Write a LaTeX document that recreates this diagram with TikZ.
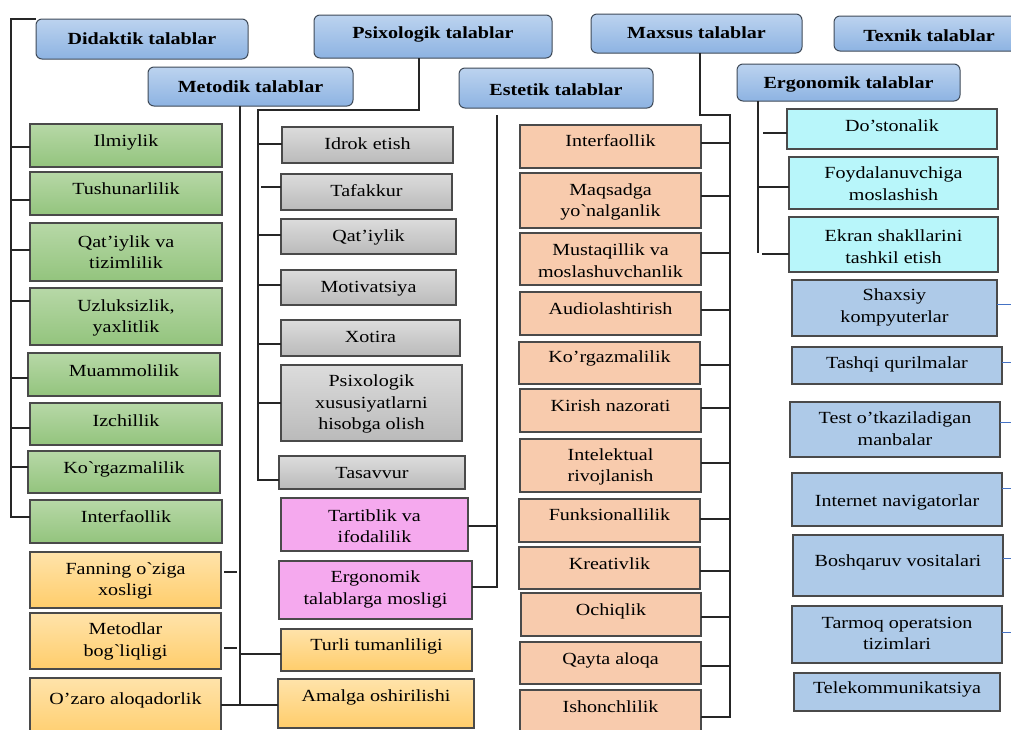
\documentclass[tikz,border=0pt]{standalone}
\usepackage{fontspec}
\setmainfont{Liberation Serif}[FakeStretch=1.18]
\usetikzlibrary{calc}
\definecolor{hdrtop}{HTML}{BCD3EF}
\definecolor{hdrbot}{HTML}{8DB3E2}
\definecolor{hdrline}{HTML}{3F4A58}
\definecolor{grtop}{HTML}{B7D8A7}
\definecolor{grbot}{HTML}{93C47D}
\definecolor{yltop}{HTML}{FFE3AA}
\definecolor{ylbot}{HTML}{FFCD6B}
\definecolor{gytop}{HTML}{DCDCDC}
\definecolor{gybot}{HTML}{BABABA}
\definecolor{pinkf}{HTML}{F5A9EE}
\definecolor{salmonf}{HTML}{F8CBAD}
\definecolor{cyanf}{HTML}{B8F6FA}
\definecolor{bluef}{HTML}{AECAE8}
\definecolor{bxline}{HTML}{4A4A4A}
\definecolor{linkblue}{HTML}{4472C4}
\newcommand\bq{\textasciigrave}
\newcommand\boxone[8]{%
  \node[#2, minimum width={(#5-#3)*1pt}, minimum height={(#6-#4)*1pt}] (#1) at ({(#3+#5)/2},{(#4+#6)/2}) {};
  \node[txt, anchor=base] (#1t) at ({(#3+#5)/2},#7) {#8};}
\newcommand\boxmulti[8]{%
  \node[#2, minimum width={(#5-#3)*1pt}, minimum height={(#6-#4)*1pt}] (#1) at ({(#3+#5)/2},{(#4+#6)/2}) {};
  \node[txt] (#1t) at ({(#3+#5)/2},#7) {#8};}
\newcommand\tick[4]{\draw[#4] ($(#1)+(0,#2)$) coordinate (tk) -- (tk -| #3);}
\begin{document}
\begin{tikzpicture}[x=1pt,y=-1pt,
  txt/.style={font=\fontsize{17}{21.5}\selectfont, align=center, inner sep=0pt},
  bx/.style={draw=bxline, line width=1.3pt, inner sep=0pt, outer sep=0pt},
  hdr/.style={draw=hdrline, line width=1pt, rounded corners=6pt, top color=hdrtop, bottom color=hdrbot, inner sep=0pt, outer sep=0pt},
  grn/.style={bx, top color=grtop, bottom color=grbot},
  ylw/.style={bx, top color=yltop, bottom color=ylbot},
  gry/.style={bx, top color=gytop, bottom color=gybot},
  pnk/.style={bx, fill=pinkf},
  slm/.style={bx, fill=salmonf},
  cyn/.style={bx, fill=cyanf},
  blu/.style={bx, fill=bluef},
  conn/.style={draw=black!85, line width=1.6pt},
  blink/.style={draw=linkblue, line width=1pt}]
\clip (0,0) rectangle (1011,729);
\fill[white] (0,0) rectangle (1011,729);
% headers
\boxone{did}{hdr}{36}{19}{248}{59}{44}{\bfseries Didaktik talablar}
\boxone{psx}{hdr}{314}{15}{552}{58}{38.5}{\bfseries Psixologik talablar}
\boxone{met}{hdr}{148}{67}{353}{106}{92.5}{\bfseries Metodik talablar}
\boxone{est}{hdr}{459}{68}{653}{108}{95}{\bfseries Estetik talablar}
\boxone{mxs}{hdr}{591}{14}{802}{53}{38.5}{\bfseries Maxsus talablar}
\boxone{tex}{hdr}{834}{16}{1024}{51}{41}{\bfseries Texnik talablar}
\boxone{erg}{hdr}{737}{64}{960}{101}{88}{\bfseries Ergonomik talablar}
% green
\boxone{g1}{grn}{30}{124}{222}{167}{146}{Ilmiylik}
\boxone{g2}{grn}{30}{172}{222}{215}{194}{Tushunarlilik}
\boxmulti{g3}{grn}{30}{223}{222}{281}{252}{Qat’iylik va\\tizimlilik}
\boxmulti{g4}{grn}{30}{288}{222}{345}{318}{Uzluksizlik,\\yaxlitlik}
\boxone{g5}{grn}{28}{353}{220}{396}{376}{Muammolilik}
\boxone{g6}{grn}{30}{403}{222}{445}{426}{Izchillik}
\boxone{g7}{grn}{28}{451}{220}{493}{473}{Ko\bq rgazmalilik}
\boxone{g8}{grn}{30}{500}{222}{543}{522}{Interfaollik}
% yellow
\boxmulti{y1}{ylw}{30}{552}{221}{608}{581}{Fanning o\bq ziga\\xosligi}
\boxmulti{y2}{ylw}{30}{613}{221}{669}{641.5}{Metodlar\\bog\bq liqligi}
\boxone{y3}{ylw}{30}{678}{221}{740}{704.3}{O’zaro aloqadorlik}
\boxone{y4}{ylw}{281}{629}{472}{671}{650.7}{Turli tumanliligi}
\boxone{y5}{ylw}{278}{679}{474}{728}{701.7}{Amalga oshirilishi}
% gray
\boxone{p1}{gry}{282}{127}{453}{163}{149.3}{Idrok etish}
\boxone{p2}{gry}{281}{174}{452}{210}{196.7}{Tafakkur}
\boxone{p3}{gry}{281}{219}{456}{254}{241.7}{Qat’iylik}
\boxone{p4}{gry}{281}{270}{456}{305}{292.7}{Motivatsiya}
\boxone{p5}{gry}{281}{320}{460}{356}{342.7}{Xotira}
\boxmulti{p6}{gry}{281}{365}{462}{441}{404}{Psixologik\\xususiyatlarni\\hisobga olish}
\boxone{p7}{gry}{279}{456}{465}{489}{478.3}{Tasavvur}
% pink
\boxmulti{k1}{pnk}{281}{498}{468}{551}{526}{Tartiblik va\\ifodalilik}
\boxmulti{k2}{pnk}{279}{561}{472}{619}{589.5}{Ergonomik\\talablarga mosligi}
% salmon
\boxone{s1}{slm}{520}{125}{701}{168}{146.7}{Interfaollik}
\boxmulti{s2}{slm}{520}{173}{701}{228}{202}{Maqsadga\\yo\bq nalganlik}
\boxmulti{s3}{slm}{520}{233}{701}{285}{260.5}{Mustaqillik va\\moslashuvchanlik}
\boxone{s4}{slm}{520}{292}{701}{335}{314}{Audiolashtirish}
\boxone{s5}{slm}{519}{342}{700}{384}{362.7}{Ko’rgazmalilik}
\boxone{s6}{slm}{520}{389}{701}{432}{411.7}{Kirish nazorati}
\boxmulti{s7}{slm}{520}{439}{701}{492}{467}{Intelektual\\rivojlanish}
\boxone{s8}{slm}{519}{499}{700}{542}{520.7}{Funksionallilik}
\boxone{s9}{slm}{519}{547}{700}{589}{569}{Kreativlik}
\boxone{s10}{slm}{521}{593}{701}{636}{615}{Ochiqlik}
\boxone{s11}{slm}{520}{642}{701}{684}{664}{Qayta aloqa}
\boxone{s12}{slm}{520}{690}{701}{740}{712.7}{Ishonchlilik}
% cyan
\boxone{c1}{cyn}{787}{109}{997}{149}{131.7}{Do’stonalik}
\boxmulti{c2}{cyn}{789}{157}{998}{209}{183.5}{Foydalanuvchiga\\moslashish}
\boxmulti{c3}{cyn}{789}{217}{998}{272}{246.5}{Ekran shakllarini\\tashkil etish}
% blue
\boxmulti{t1}{blu}{792}{280}{997}{336}{307.5}{Shaxsiy\\kompyuterlar}
\boxone{t2}{blu}{792}{347}{1002}{384}{368.3}{Tashqi qurilmalar}
\boxmulti{t3}{blu}{790}{402}{1000}{457}{428.5}{Test o’tkaziladigan\\manbalar}
\boxone{t4}{blu}{792}{473}{1002}{526}{506}{Internet navigatorlar}
\boxone{t5}{blu}{793}{535}{1003}{596}{566}{Boshqaruv vositalari}
\boxmulti{t6}{blu}{792}{606}{1002}{663}{633.5}{Tarmoq operatsion\\tizimlari}
\boxone{t7}{blu}{794}{673}{1000}{711}{693.3}{Telekommunikatsiya}
% Didaktik connectors
\coordinate (dtop) at (11,19);
\draw[conn] (did.north west) -- (dtop) |- ($(g8.west)+(0,-4.5)$);
\tick{g1.west}{1.5}{dtop}{conn}
\tick{g2.west}{6.5}{dtop}{conn}
\tick{g3.west}{-2}{dtop}{conn}
\tick{g4.west}{-15.5}{dtop}{conn}
\tick{g5.west}{3.5}{dtop}{conn}
\tick{g6.west}{4}{dtop}{conn}
\tick{g7.west}{-5}{dtop}{conn}
% Metodik connectors
\coordinate (mspine) at (240,705);
\draw[conn] ($(met.south)+(-10.5,0)$) -- (mspine);
\draw[conn] (y3.east |- mspine) -- (y5.west |- mspine);
\tick{y1.east}{-8}{mspine}{conn, shorten <=3pt, shorten >=3pt}
\tick{y2.east}{7}{mspine}{conn, shorten <=3pt, shorten >=3pt}
\tick{y4.west}{4}{mspine}{conn}
% Psixologik connectors
\coordinate (pcorner) at (419,110);
\coordinate (pspine) at (258,110);
\draw[conn] ($(psx.south)+(-14,0)$) -- (pcorner) -- (pspine) |- ($(p7.west)+(0,7.5)$);
\tick{p1.west}{-1}{pspine}{conn}
\tick{p2.west}{-5}{pspine}{conn, shorten >=3pt}
\tick{p3.west}{-1.5}{pspine}{conn}
\tick{p4.west}{-2.5}{pspine}{conn}
\tick{p5.west}{6}{pspine}{conn}
\tick{p6.west}{0}{pspine}{conn}
% Estetik connectors
\coordinate (etop) at ($(est.south)+(-59,7)$);
\draw[conn] (etop) |- ($(k2.east)+(0,-3)$);
\tick{k1.east}{1.5}{etop}{conn}
% Maxsus connectors
\coordinate (xcorner) at (700,115);
\coordinate (xspine) at (730,115);
\draw[conn] ($(mxs.south)+(3.5,0)$) -- (xcorner) -- (xspine) |- ($(s12.east)+(0,2)$);
\tick{s1.east}{-3.5}{xspine}{conn}
\tick{s2.east}{-4.5}{xspine}{conn}
\tick{s3.east}{-6}{xspine}{conn}
\tick{s4.east}{-3.5}{xspine}{conn}
\tick{s5.east}{2}{xspine}{conn}
\tick{s6.east}{-2.5}{xspine}{conn}
\tick{s7.east}{-2.5}{xspine}{conn}
\tick{s8.east}{-1.5}{xspine}{conn}
\tick{s9.east}{3}{xspine}{conn}
\tick{s10.east}{2.5}{xspine}{conn}
\tick{s11.east}{3}{xspine}{conn}
% Ergonomik connectors
\coordinate (gspine) at (758,253);
\draw[conn] (erg.south -| gspine) -- (gspine);
\tick{c1.west}{4}{gspine}{conn, shorten >=5pt}
\tick{c2.west}{4}{gspine}{conn}
\tick{c3.west}{9.5}{gspine}{conn, shorten >=4pt}
% Texnik links
\coordinate (tedge) at (1015,0);
\tick{t1.east}{-4}{tedge}{blink}
\tick{t2.east}{-3.5}{tedge}{blink}
\tick{t3.east}{-7.5}{tedge}{blink}
\tick{t4.east}{-11.5}{tedge}{blink}
\tick{t5.east}{-7.5}{tedge}{blink}
\tick{t6.east}{-2.5}{tedge}{blink}
\end{tikzpicture}
\end{document}
